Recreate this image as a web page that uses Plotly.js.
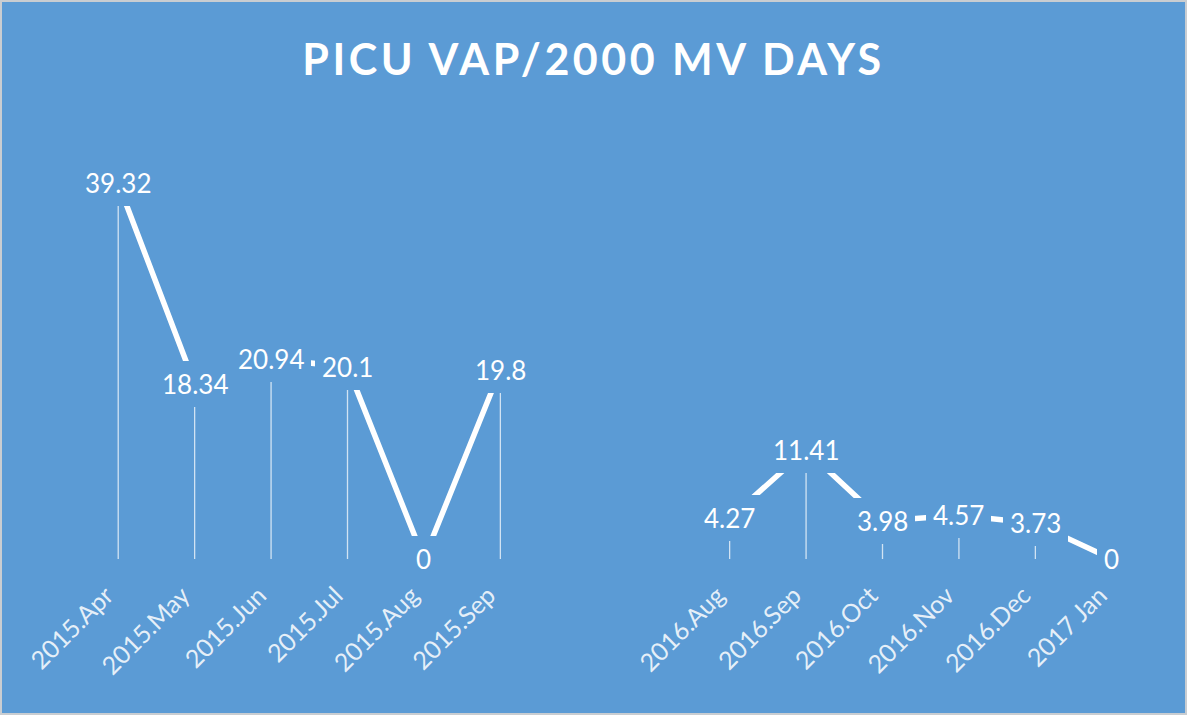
<!DOCTYPE html>
<html>
<head>
<meta charset="utf-8">
<script src="https://cdn.plot.ly/plotly-3.0.1.min.js"></script>
<style>
  html, body { margin: 0; padding: 0; background: #5B9BD5; }
  #wrap { width: 1183px; height: 711px; border: 2px solid #c9cdd1; background: #5B9BD5; }
  #chart { width: 1183px; height: 711px; }
</style>
</head>
<body>
<div id="wrap"><div id="chart"></div></div>
<script>
// ---- data ----
const categories = ['2015.Apr', '2015.May', '2015.Jun', '2015.Jul', '2015.Aug', '2015.Sep', '', '', '2016.Aug', '2016.Sep', '2016.Oct', '2016.Nov', '2016.Dec', '2017 Jan'];
const values = [39.32, 18.34, 20.94, 20.1, 0, 19.8, null, null, 4.27, 11.41, 3.98, 4.57, 3.73, 0];
const valueLabels = ['39.32', '18.34', '20.94', '20.1', '0', '19.8', '', '', '4.27', '11.41', '3.98', '4.57', '3.73', '0'];
const chartTitle = 'PICU VAP/2000 MV DAYS';

// ---- derived ----
const xIdx = categories.map((c, i) => i);
const dropX = [], dropY = [];
values.forEach((v, i) => {
  if (v !== null) { dropX.push(i, i, null); dropY.push(0, v, null); }
});

const BG = '#5B9BD5';
const FONT = 'Lato, "Open Sans", sans-serif';

const traces = [
  {
    x: dropX, y: dropY, type: 'scatter', mode: 'lines',
    line: { color: 'rgba(255,255,255,0.72)', width: 1.3 },
    hoverinfo: 'skip', showlegend: false
  },
  {
    x: xIdx, y: values, type: 'scatter', mode: 'lines',
    line: { color: '#ffffff', width: 5.5 },
    connectgaps: false, showlegend: false
  }
];

const annotations = [];
values.forEach((v, i) => {
  if (v === null) return;
  annotations.push({
    x: i, y: v, xref: 'x', yref: 'y', text: valueLabels[i],
    showarrow: false, bgcolor: BG, borderpad: 7, borderwidth: 0,
    font: { family: FONT, size: 26, color: '#ffffff' }
  });
});

const layout = {
  width: 1183, height: 711,
  paper_bgcolor: BG, plot_bgcolor: BG,
  margin: { l: 78, r: 35, t: 127, b: 154 },
  title: {
    text: chartTitle,
    font: { family: FONT, size: 43, color: '#ffffff', weight: 'bold' },
    x: 0.5, xanchor: 'center', y: 0.918, yanchor: 'middle', yref: 'container'
  },
  xaxis: {
    range: [-0.5, 13.5],
    tickmode: 'array', tickvals: xIdx, ticktext: categories,
    tickangle: -45,
    tickfont: { family: FONT, size: 25, color: 'rgba(255,255,255,0.85)' },
    ticks: '', showgrid: false, zeroline: false, showline: false,
    ticklabelstandoff: 16, ticklabelshift: -12
  },
  yaxis: {
    range: [0, 45], showticklabels: false, showgrid: false,
    zeroline: false, showline: false, ticks: ''
  },
  annotations: annotations,
  showlegend: false
};

Plotly.newPlot('chart', traces, layout, { staticPlot: true }).then(() => {
  document.querySelectorAll('.gtitle').forEach(t => { t.style.letterSpacing = '3.5px'; });
});
</script>
</body>
</html>
